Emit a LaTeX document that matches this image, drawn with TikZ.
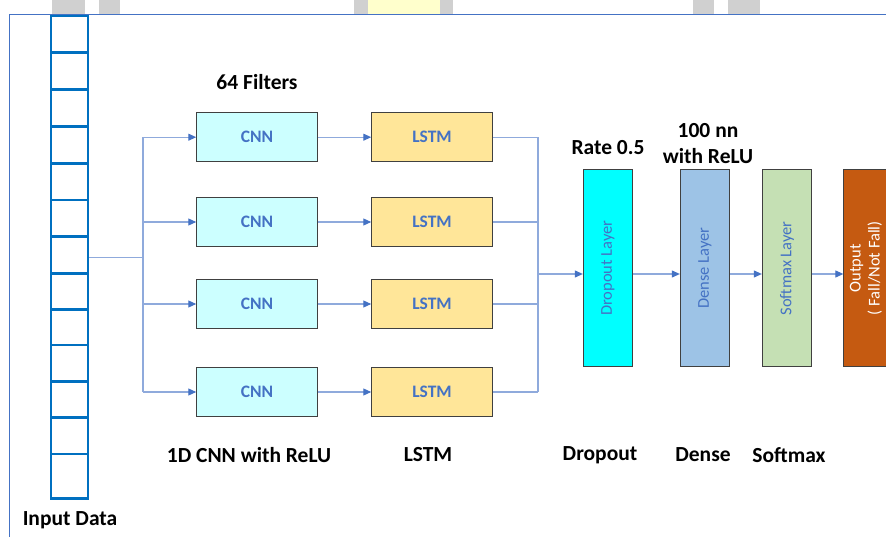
\documentclass[tikz,border=0pt]{standalone}
\usepackage{fontspec}
\setmainfont{Carlito}
\usetikzlibrary{arrows.meta}
\definecolor{frameblue}{HTML}{4472C4}
\definecolor{colblue}{HTML}{0070C0}
\definecolor{linkblue}{HTML}{8FAADC}
\definecolor{tipblue}{HTML}{4472C4}
\definecolor{cnnfill}{HTML}{CCFFFF}
\definecolor{lstmfill}{HTML}{FFE699}
\definecolor{dropfill}{HTML}{00FFFF}
\definecolor{densefill}{HTML}{9DC3E6}
\definecolor{softfill}{HTML}{C5E0B4}
\definecolor{outfill}{HTML}{C55A11}
\definecolor{boxedge}{HTML}{404040}
\definecolor{tabgray}{HTML}{D0D0D0}
\definecolor{tabyellow}{HTML}{FFFFCC}
\begin{document}
\begin{tikzpicture}[x=1pt,y=-1pt,
  link/.style={draw=linkblue, line width=1.1pt},
  flow/.style={link, -{Triangle[length=8pt,width=7pt,color=tipblue]}},
  blockbox/.style={draw=boxedge, line width=0.9pt, minimum width=120.6pt,
    minimum height=49pt, inner sep=0pt,
    font=\fontsize{17.5}{19}\selectfont\bfseries, text=frameblue},
  layerbox/.style={draw=boxedge, line width=0.9pt, minimum width=49.4pt,
    minimum height=196.7pt, inner sep=0pt},
  layertext/.style={rotate=90, font=\fontsize{16.5}{19}\selectfont,
    text=frameblue, align=center, inner sep=0pt},
  caption/.style={font=\fontsize{21.5}{25}\selectfont\bfseries,
    text=black, inner sep=0pt, align=center}
]
\useasboundingbox (0,0) rectangle (886,537);
\clip (0,0) rectangle (886,537);

% tabs peeking above the frame
\fill[tabgray] (52,0) rectangle (85,14);
\fill[tabgray] (99,0) rectangle (120,14);
\fill[tabgray] (354,0) rectangle (368,14);
\fill[tabyellow] (368,0) rectangle (440,14);
\fill[tabgray] (440,0) rectangle (453,14);
\fill[tabgray] (693,0) rectangle (714,14);
\fill[tabgray] (728,0) rectangle (760,14);

% outer frame
\draw[frameblue, line width=1.6pt] (9.5,14.5) rectangle (920,580);

% input data column
\node[draw=colblue, line width=2.8pt, minimum width=37pt, minimum height=482.3pt,
      inner sep=0pt] (input) at (69.5,257.15) {};
\foreach \yy in {52.7,89.3,126.7,163.3,200,236.7,273.3,309.3,345,381.7,417.7,454}
  \draw[colblue, line width=2.8pt] (51,\yy) -- (88,\yy);
\node[caption] (inlabel) at (70,520) {Input Data};

% CNN and LSTM branches
\node[blockbox, fill=cnnfill] (cnn1) at (257,137.2) {CNN};
\node[blockbox, fill=cnnfill] (cnn2) at (257,222) {CNN};
\node[blockbox, fill=cnnfill] (cnn3) at (257,304) {CNN};
\node[blockbox, fill=cnnfill] (cnn4) at (257,392) {CNN};
\node[blockbox, fill=lstmfill] (lstm1) at (432,137.2) {LSTM};
\node[blockbox, fill=lstmfill] (lstm2) at (432,222) {LSTM};
\node[blockbox, fill=lstmfill] (lstm3) at (432,304) {LSTM};
\node[blockbox, fill=lstmfill] (lstm4) at (432,392) {LSTM};

% layer columns
\node[layerbox, fill=dropfill] (drop) at (608,268.3) {};
\node[layerbox, fill=densefill] (dense) at (705,268.3) {};
\node[layerbox, fill=softfill] (soft) at (787,268.3) {};
\node[layerbox, fill=outfill] (out) at (868.5,268.3) {};
\node[layertext] (droptxt) at (drop.center) {Dropout Layer};
\node[layertext] (densetxt) at (dense.center) {Dense Layer};
\node[layertext] (softtxt) at (soft.center) {Softmax Layer};
\node[layertext, text=white] (outtxt) at (866,268.3) {Output\\( Fall/Not Fall)};

% split from the input
\coordinate (br) at (143,257.15);
\draw[link] (input.east) -- (br);
\draw[link] (br |- cnn1.west) -- (br |- cnn4.west);
\foreach \i in {1,2,3,4} {
  \draw[flow] (br |- cnn\i.west) -- (cnn\i.west);
  \draw[flow] (cnn\i.east) -- (lstm\i.west);
}

% merge into the dense head
\coordinate (mg) at (538,274);
\foreach \i in {1,2,3,4}
  \draw[link] (lstm\i.east) -- (mg |- lstm\i.east);
\draw[link] (mg |- lstm1.east) -- (mg |- lstm4.east);
\draw[flow] (mg) -- (mg -| drop.west);
\draw[flow] (drop.east |- mg) -- (dense.west |- mg);
\draw[flow] (dense.east |- mg) -- (soft.west |- mg);
\draw[flow] (soft.east |- mg) -- (out.west |- mg);

% captions
\node[caption] (filters) at (257,82.5) {64 Filters};
\node[caption] (rate) at (608,148) {Rate 0.5};
\node[caption] (nn) at (708,131) {100 nn};
\node[caption] (relu) at (708,156) {with ReLU};
\node[caption] (c1) at (249,455) {1D CNN with ReLU};
\node[caption] (c2) at (428,455) {LSTM};
\node[caption] (c3) at (600,455) {Dropout};
\node[caption] (c4) at (703,455) {Dense};
\node[caption] (c5) at (789,455) {Softmax};
\end{tikzpicture}
\end{document}
